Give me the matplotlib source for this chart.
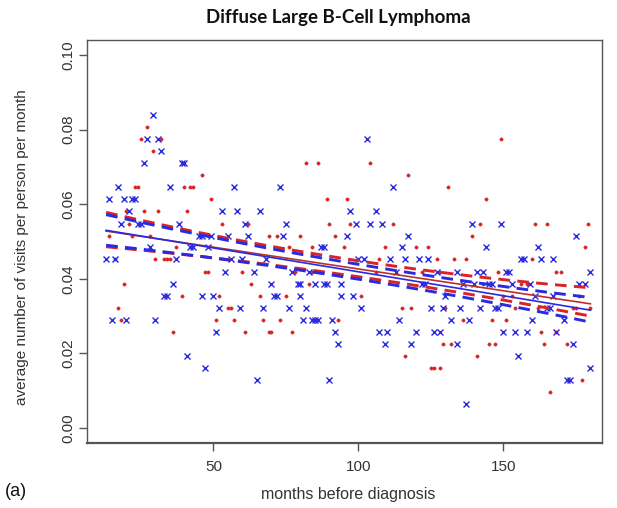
import matplotlib
matplotlib.use("Agg")
import matplotlib.pyplot as plt
import numpy as np

# ---- data (month, average visits per person per month) ----
red_points = [
    (27,0.0806),(25,0.0774),(32,0.0774),(29,0.0742),(46,0.0677),(23,0.0645),(24,0.0645),(40,0.0645),
    (42,0.0645),(43,0.0645),(49,0.0613),(20,0.0581),(26,0.0581),(31,0.0581),(41,0.0581),(21,0.0548),
    (53,0.0548),(62,0.0548),(14,0.0516),(22,0.0516),(28,0.0516),(69,0.0516),(37,0.0484),(16,0.0452),
    (30,0.0452),(33,0.0452),(34,0.0452),(35,0.0452),(47,0.0419),(48,0.0419),(60,0.0419),(19,0.0387),
    (63,0.0387),(39,0.0355),(52,0.0355),(66,0.0355),(17,0.0323),(55,0.0323),(56,0.0323),(18,0.0290),
    (51,0.0290),(57,0.0290),(67,0.0290),(36,0.0258),(61,0.0258),(69,0.0258),
    (82,0.0710),(86,0.0710),(104,0.0710),(117,0.0677),(89,0.0613),(96,0.0613),(90,0.0548),(97,0.0548),
    (112,0.0548),(72,0.0516),(80,0.0516),(92,0.0516),(76,0.0484),(84,0.0484),(95,0.0484),(109,0.0484),
    (120,0.0484),(124,0.0484),(107,0.0452),(106,0.0419),(128,0.0419),(83,0.0387),(75,0.0355),(101,0.0355),
    (78,0.0419),(84,0.0419),(115,0.0323),(118,0.0323),(73,0.0290),(93,0.0290),(70,0.0258),(77,0.0258),
    (116,0.0194),(125,0.0161),(126,0.0161),(128,0.0161),
    (149,0.0774),(131,0.0645),(144,0.0613),(142,0.0548),(161,0.0548),(165,0.0548),(179,0.0548),(139,0.0516),
    (178,0.0484),(127,0.0452),(133,0.0452),(137,0.0452),(160,0.0452),(148,0.0419),(168,0.0419),(170,0.0419),
    (122,0.0419),(150,0.0355),(153,0.0355),(176,0.0355),(143,0.0387),(156,0.0387),(158,0.0387),
    (130,0.0323),(154,0.0323),(162,0.0323),(174,0.0323),(175,0.0323),(180,0.0323),(136,0.0290),(146,0.0290),
    (151,0.0290),(163,0.0258),(168,0.0258),(129,0.0226),(132,0.0226),(145,0.0226),(147,0.0226),(164,0.0226),
    (172,0.0226),(141,0.0194),(177,0.0129),(166,0.0097),
]
blue_points = [
    (29,0.0839),(27,0.0774),(31,0.0774),(32,0.0742),(26,0.0710),(39,0.0710),(40,0.0710),(17,0.0645),
    (35,0.0645),(57,0.0645),(14,0.0613),(19,0.0613),(22,0.0613),(23,0.0613),(21,0.0581),(53,0.0581),
    (58,0.0581),(66,0.0581),(18,0.0548),(24,0.0548),(25,0.0548),(38,0.0548),(61,0.0548),(45,0.0516),
    (46,0.0516),(49,0.0516),(55,0.0516),(62,0.0516),(28,0.0484),(42,0.0484),(43,0.0484),(48,0.0484),
    (13,0.0452),(16,0.0452),(37,0.0452),(56,0.0452),(60,0.0452),(54,0.0419),(64,0.0419),(36,0.0387),
    (70,0.0387),(33,0.0355),(34,0.0355),(46,0.0355),(50,0.0355),
    (52,0.0323),(59,0.0323),(67,0.0323),(15,0.0290),(20,0.0290),(30,0.0290),(51,0.0258),(41,0.0194),
    (47,0.0161),(65,0.0129),
    (103,0.0774),(73,0.0645),(112,0.0645),(97,0.0581),(106,0.0581),(75,0.0548),(99,0.0548),(104,0.0548),
    (108,0.0548),(74,0.0516),(96,0.0516),(117,0.0516),(87,0.0484),(88,0.0484),(115,0.0484),(68,0.0452),
    (100,0.0452),(102,0.0452),(111,0.0452),(116,0.0452),(121,0.0452),(124,0.0452),(77,0.0419),(83,0.0419),
    (113,0.0419),(79,0.0387),(80,0.0387),(85,0.0387),(88,0.0387),(89,0.0387),(94,0.0387),(122,0.0387),
    (71,0.0355),(72,0.0355),(80,0.0355),(94,0.0355),(98,0.0355),
    (76,0.0323),(82,0.0323),(101,0.0323),(125,0.0323),(81,0.0290),(84,0.0290),(85,0.0290),(86,0.0290),
    (91,0.0290),(114,0.0290),(92,0.0258),(107,0.0258),(110,0.0258),(120,0.0258),(126,0.0258),(128,0.0258),
    (93,0.0226),(109,0.0226),(118,0.0226),(90,0.0129),
    (139,0.0548),(149,0.0548),(175,0.0516),(144,0.0484),(162,0.0484),(156,0.0452),(157,0.0452),(163,0.0452),
    (167,0.0452),(127,0.0419),(134,0.0419),(141,0.0419),(143,0.0419),(151,0.0419),(152,0.0419),(180,0.0419),
    (123,0.0387),(136,0.0387),(140,0.0387),(145,0.0387),(146,0.0387),(153,0.0387),(159,0.0387),(176,0.0387),
    (178,0.0387),(130,0.0355),(161,0.0355),(167,0.0355),
    (129,0.0323),(135,0.0323),(142,0.0323),(147,0.0323),(148,0.0323),(165,0.0323),(166,0.0323),(132,0.0290),
    (138,0.0290),(160,0.0290),(171,0.0290),(150,0.0258),(154,0.0258),(158,0.0258),(168,0.0258),(134,0.0226),
    (174,0.0226),(155,0.0194),(180,0.0161),(172,0.0129),(173,0.0129),(137,0.0065),
]

# regression lines and confidence bands (values read at three months)
band_months = [13, 96, 180]
red_fit = [0.0528, 0.0431, 0.0333]
red_upper = [0.0578, 0.0453, 0.0376]
red_lower = [0.0486, 0.0410, 0.0300]
blue_fit = [0.0530, 0.0424, 0.0316]
blue_upper = [0.0572, 0.0444, 0.0350]
blue_lower = [0.0490, 0.0404, 0.0284]

x_ticks = [50, 100, 150]
y_ticks = [0.00, 0.02, 0.04, 0.06, 0.08, 0.10]
y_ticklabels = ["0.00", "0.02", "0.04", "0.06", "0.08", "0.10"]

RED = "#d82424"
BLUE = "#2a2ae0"
TXT = "#333333"
AX = "#555555"

W, H = 617, 508
fig = plt.figure(figsize=(W / 100, H / 100), dpi=100)
ax = fig.add_axes([87 / W, (H - 443) / H, (602 - 87) / W, (443 - 40) / H])

rx, ry = zip(*red_points)
bx, by = zip(*blue_points)
ax.plot(rx, ry, linestyle="none", marker="o", ms=2.4, mfc=RED, mec=RED, mew=0.3)
ax.plot(bx, by, linestyle="none", marker="x", ms=4.0, mec=BLUE, mew=1.0)

xs = np.linspace(band_months[0], band_months[-1], 200)
def curve(vals):
    return np.polyval(np.polyfit(band_months, vals, 2), xs)

ax.plot(xs, curve(red_upper), color=RED, lw=2.1, dashes=(4, 2.5))
ax.plot(xs, curve(red_lower), color=RED, lw=2.1, dashes=(4, 2.5))
ax.plot(xs, curve(blue_upper), color=BLUE, lw=2.1, dashes=(4, 2.5))
ax.plot(xs, curve(blue_lower), color=BLUE, lw=2.1, dashes=(4, 2.5))
ax.plot(xs, curve(red_fit), color="#b8322a", lw=1.2)
ax.plot(xs, curve(blue_fit), color=BLUE, lw=1.2)

ax.set_xlim(6.4, 184)
ax.set_ylim(-0.004, 0.104)
ax.set_xticks(x_ticks)
ax.set_xticklabels([str(t) for t in x_ticks])
ax.set_yticks(y_ticks)
ax.set_yticklabels(y_ticklabels, rotation=90, va="center")
for s in ax.spines.values():
    s.set_color(AX)
    s.set_linewidth(1.0)
ax.spines["bottom"].set_linewidth(1.6)
ax.tick_params(axis="both", direction="out", length=5.5, width=1.0, color=AX,
               labelcolor=TXT, labelsize=11)
ax.tick_params(axis="x", pad=7)
ax.tick_params(axis="y", pad=3)
for lab in ax.get_xticklabels() + ax.get_yticklabels():
    lab.set_family(["Liberation Sans", "DejaVu Sans"])

fig.text(338 / W, 1 - 17 / H, "Diffuse Large B-Cell Lymphoma", ha="center", va="center",
         fontsize=13.5, fontweight="bold", family=["Lato", "DejaVu Sans"], color="#111111")
fig.text(22 / W, 1 - 247 / H, "average number of visits per person per month", rotation=90,
         ha="center", va="center", fontsize=11, family=["Liberation Sans", "DejaVu Sans"], color=TXT)
fig.text(348 / W, 1 - 494 / H, "months before diagnosis", ha="center", va="center",
         fontsize=11.5, family=["Liberation Sans", "DejaVu Sans"], color=TXT)
fig.text(5 / W, 1 - 492 / H, "(a)", ha="left", va="center", fontsize=13,
         family=["Liberation Sans", "DejaVu Sans"], color="#111111")

fig.savefig("out.png", dpi=100)
